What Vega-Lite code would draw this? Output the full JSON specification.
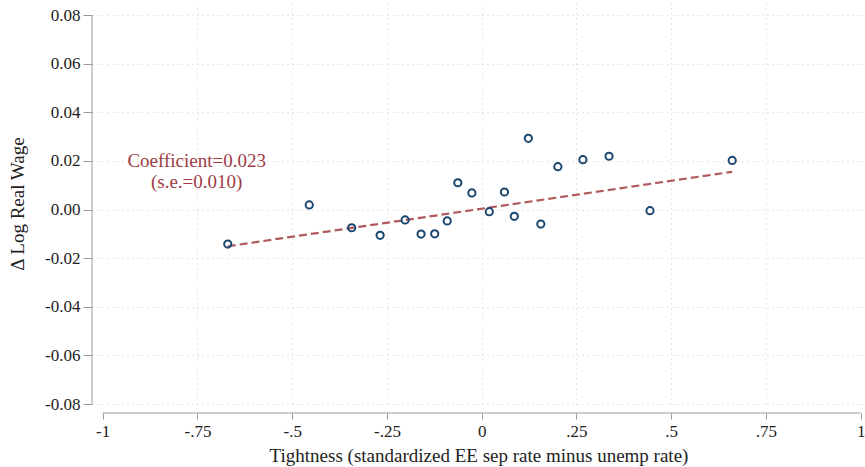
{
  "$schema": "https://vega.github.io/schema/vega-lite/v6.json",
  "width": 773,
  "height": 401,
  "autosize": "none",
  "padding": {"left": 92, "top": 3, "right": 0, "bottom": 63},
  "background": "white",
  "config": {
    "view": {"stroke": null},
    "font": "Liberation Serif",
    "axis": {
      "labelFont": "Liberation Serif",
      "titleFont": "Liberation Serif",
      "labelColor": "#222222",
      "titleColor": "#222222",
      "titleFontWeight": "normal",
      "labelFontSize": 17,
      "titleFontSize": 19,
      "tickColor": "#9a9a9a",
      "gridColor": "#cfcfcf",
      "gridDash": [1, 4],
      "gridWidth": 1
    }
  },
  "datasets": {
    "bins": [
      {"tightness": -0.670, "dlogwage": -0.0142},
      {"tightness": -0.455, "dlogwage": 0.0019},
      {"tightness": -0.343, "dlogwage": -0.0075},
      {"tightness": -0.268, "dlogwage": -0.0106},
      {"tightness": -0.202, "dlogwage": -0.0043},
      {"tightness": -0.160, "dlogwage": -0.0101},
      {"tightness": -0.124, "dlogwage": -0.0100},
      {"tightness": -0.091, "dlogwage": -0.0047},
      {"tightness": -0.063, "dlogwage": 0.0110},
      {"tightness": -0.026, "dlogwage": 0.0068},
      {"tightness": 0.020, "dlogwage": -0.0009},
      {"tightness": 0.060, "dlogwage": 0.0072},
      {"tightness": 0.086, "dlogwage": -0.0028},
      {"tightness": 0.123, "dlogwage": 0.0293},
      {"tightness": 0.156, "dlogwage": -0.0060},
      {"tightness": 0.201, "dlogwage": 0.0176},
      {"tightness": 0.267, "dlogwage": 0.0205},
      {"tightness": 0.336, "dlogwage": 0.0219},
      {"tightness": 0.444, "dlogwage": -0.0005},
      {"tightness": 0.661, "dlogwage": 0.0202}
    ],
    "fit": [
      {"tightness": -0.670, "fitted": -0.0151},
      {"tightness": 0.661, "fitted": 0.0155}
    ],
    "yaxisline": [
      {"x": -1.0282, "y": -0.08, "y2": 0.08}
    ],
    "xaxisline": [
      {"x": -1, "x2": 1, "y": -0.0837}
    ]
  },
  "layer": [
    {
      "data": {"name": "fit"},
      "mark": {"type": "line", "stroke": "#b05a5c", "strokeWidth": 2.2, "strokeDash": [8, 4]},
      "encoding": {
        "x": {
          "field": "tightness",
          "type": "quantitative",
          "scale": {"domain": [-1.0282, 1.0113], "nice": false, "zero": false},
          "axis": {
            "title": "Tightness (standardized EE sep rate minus unemp rate)",
            "values": [-1, -0.75, -0.5, -0.25, 0, 0.25, 0.5, 0.75, 1],
            "labelExpr": "datum.value == 0 ? '0' : datum.value == 1 ? '1' : datum.value == -1 ? '-1' : datum.value < 0 ? '-' + replace(format(-datum.value, '.2~f'), '0.', '.') : replace(format(datum.value, '.2~f'), '0.', '.')",
            "domain": false,
            "offset": 9,
            "tickSize": 6,
            "labelPadding": 4,
            "titlePadding": 7,
            "grid": true,
            "gridOpacity": {"condition": {"test": "abs(datum.value) == 1", "value": 0}, "value": 1}
          }
        },
        "y": {
          "field": "fitted",
          "type": "quantitative",
          "scale": {"domain": [-0.08, 0.08494], "nice": false, "zero": false},
          "axis": {
            "title": "Δ Log Real Wage",
            "values": [-0.08, -0.06, -0.04, -0.02, 0, 0.02, 0.04, 0.06, 0.08],
            "labelExpr": "datum.value < 0 ? '-' + format(-datum.value, '.2f') : format(datum.value, '.2f')",
            "domain": false,
            "tickSize": 9,
            "labelPadding": 3,
            "titlePadding": 17,
            "grid": true
          }
        }
      }
    },
    {
      "data": {"name": "bins"},
      "mark": {"type": "point", "shape": "circle", "filled": false, "stroke": "#1a476f", "strokeWidth": 2, "size": 52, "opacity": 1},
      "encoding": {
        "x": {"field": "tightness", "type": "quantitative"},
        "y": {"field": "dlogwage", "type": "quantitative"}
      }
    },
    {
      "data": {"name": "yaxisline"},
      "mark": {"type": "rule", "stroke": "#9a9a9a", "strokeWidth": 1},
      "encoding": {
        "x": {"field": "x", "type": "quantitative"},
        "y": {"field": "y", "type": "quantitative"},
        "y2": {"field": "y2"}
      }
    },
    {
      "data": {"name": "xaxisline"},
      "mark": {"type": "rule", "stroke": "#9a9a9a", "strokeWidth": 1},
      "encoding": {
        "x": {"field": "x", "type": "quantitative"},
        "x2": {"field": "x2"},
        "y": {"field": "y", "type": "quantitative"}
      }
    },
    {
      "data": {"values": [{}]},
      "mark": {"type": "text", "font": "Liberation Serif", "fontSize": 19, "color": "#9e3c46", "align": "center", "baseline": "middle", "lineHeight": 21},
      "encoding": {
        "x": {"datum": -0.752},
        "y": {"datum": 0.0198},
        "text": {"value": ["Coefficient=0.023", "(s.e.=0.010)"]}
      }
    }
  ]
}
